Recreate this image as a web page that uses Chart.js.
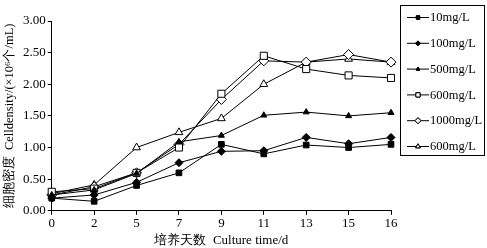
<!DOCTYPE html>
<html><head><meta charset="utf-8">
<script src="https://cdn.jsdelivr.net/npm/chart.js@4/dist/chart.umd.min.js"></script>
<style>html,body{margin:0;padding:0;background:#fff}#wrap{width:487px;height:248px}</style>
</head><body><div id="wrap"><canvas id="c" width="487" height="248"></canvas></div>
<script>
const days = ['0','2','5','7','9','11','13','15','16'];
const yTicks = [0, 0.5, 1, 1.5, 2, 2.5, 3];
const labels = ['10mg/L','100mg/L','500mg/L','600mg/L','1000mg/L','600mg/L'];
const s10   = [0.20, 0.15, 0.40, 0.60, 1.05, 0.90, 1.04, 1.00, 1.05];
const s100  = [0.20, 0.25, 0.45, 0.76, 0.94, 0.95, 1.16, 1.06, 1.16];
const s500  = [0.25, 0.33, 0.59, 1.09, 1.19, 1.51, 1.56, 1.50, 1.55];
const s600a = [0.30, 0.35, 0.60, 1.00, 1.85, 2.45, 2.24, 2.14, 2.10];
const s1000 = [0.25, 0.38, 0.60, 1.05, 1.76, 2.37, 2.35, 2.47, 2.35];
const s600b = [0.27, 0.41, 1.00, 1.24, 1.46, 2.00, 2.35, 2.40, 2.35];

const seriesData = [s10, s100, s500, s600a, s1000, s600b];
const styles = [
  {ps:'rect', r:4, fill:'#000'},
  {ps:'rectRot', r:4, fill:'#000'},
  {ps:'triangle', r:3.5, fill:'#000'},
  {ps:'rect', r:5, fill:'#fff'},
  {ps:'rectRot', r:5, fill:'#fff'},
  {ps:'triangle', r:4.5, fill:'#fff'}
];
const FONT = '"Liberation Serif","Times New Roman",serif';

const datasets = seriesData.map((d,i)=>({
  label: labels[i], data: d,
  borderColor:'#000', borderWidth:1,
  pointStyle: styles[i].ps, pointRadius: styles[i].r,
  pointBackgroundColor: styles[i].fill, pointBorderColor:'#000', pointBorderWidth:1,
  tension:0, fill:false
}));

const legendPlugin = {
  id:'boxLegend',
  afterDraw(chart){
    const ctx = chart.ctx;
    const x0 = 400, y0 = 5, w = 84, h = 150;
    ctx.save();
    ctx.strokeStyle = '#000'; ctx.lineWidth = 1;
    ctx.strokeRect(x0+0.5, y0+0.5, w, h);
    ctx.font = '12.5px ' + FONT;
    ctx.fillStyle = '#000';
    ctx.textBaseline = 'middle';
    chart.data.datasets.forEach((ds,i)=>{
      const y = y0 + 12 + i*25.8;
      ctx.beginPath(); ctx.moveTo(x0+7, y+0.5); ctx.lineTo(x0+29, y+0.5); ctx.stroke();
      ctx.fillStyle = styles[i].fill;
      Chart.helpers.drawPoint(ctx, {pointStyle: styles[i].ps, radius: styles[i].r*0.6, rotation:0, borderWidth:1}, x0+18, y+0.5);
      ctx.fill(); ctx.stroke();
      ctx.fillStyle = '#000';
      ctx.fillText(ds.label, x0+30, y+1);
    });
    ctx.restore();
  }
};

new Chart(document.getElementById('c'), {
  type:'line',
  data:{labels: days, datasets},
  plugins:[legendPlugin],
  options:{
    responsive:false, animation:false, devicePixelRatio:1,
    layout:{padding:{left:2, right:96, top:21, bottom:0}},
    plugins:{legend:{display:false}, tooltip:{enabled:false}},
    scales:{
      x:{
        offset:false,
        grid:{display:true, drawOnChartArea:false, drawTicks:true, tickLength:4, color:'#000'},
        border:{color:'#000', width:1},
        ticks:{color:'#000', font:{family:FONT, size:13}, padding:1, maxRotation:0},
        title:{display:true, text:'培养天数  Culture time/d', color:'#000', font:{family:FONT, size:13}, padding:{top:0,bottom:0}}
      },
      y:{
        min:0, max:3,
        afterBuildTicks(axis){ axis.ticks = yTicks.map(v=>({value:v})); },
        grid:{display:true, drawOnChartArea:false, drawTicks:true, tickLength:4, color:'#000'},
        border:{color:'#000', width:1},
        ticks:{color:'#000', font:{family:FONT, size:13}, padding:2, callback:v=>Number(v).toFixed(2)},
        title:{display:true, text:'细胞密度  Celldensity/(×10⁶个/mL)', color:'#000', font:{family:FONT, size:12.5}, padding:{top:0,bottom:4}}
      }
    }
  }
});
</script></body></html>
